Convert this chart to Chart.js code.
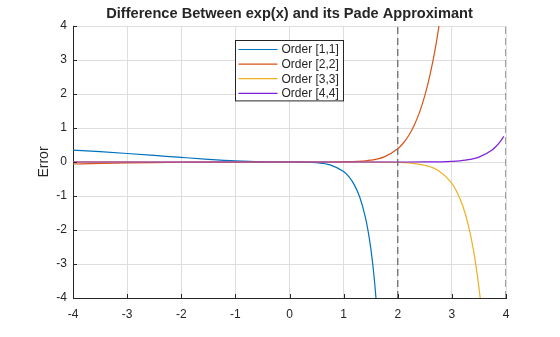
<!DOCTYPE html>
<html>
<head>
<meta charset="utf-8">
<script src="https://cdn.jsdelivr.net/npm/chart.js@4.4.1/dist/chart.umd.min.js"></script>
<style>
  html, body { margin: 0; padding: 0; background: #fff; }
  #wrap { width: 560px; height: 337px; }
</style>
</head>
<body>
<div id="wrap"><canvas id="padeChart" width="560" height="337"></canvas></div>
<script>
// error exp(x) - R(x) for each Pade order
var xOrder1 = [-4, -3.5, -3, -2.5, -2, -1.5, -1, -0.5, -0.25, 0, 0.25, 0.5, 0.75, 1, 1.1, 1.2, 1.3, 1.4, 1.45, 1.5, 1.55, 1.6, 1.65];
var errOrder1 = [0.3516, 0.3029, 0.2498, 0.1932, 0.1353, 0.0803, 0.0346, 0.0065, 0.0010, 0, -0.0017, -0.0180, -0.0830, -0.2817, -0.4403, -0.6799, -1.0450, -1.6115, -2.0096, -2.5183, -3.1774, -4.0470, -5.2216];

var xOrder2 = [-4, -3.5, -3, -2.5, -2, -1.5, -1, 0, 0.5, 0.75, 1, 1.25, 1.5, 1.75, 2, 2.1, 2.2, 2.3, 2.4, 2.5, 2.6, 2.7, 2.8];
var errOrder2 = [-0.0586, -0.0416, -0.0271, -0.0157, -0.0075, -0.0027, -0.0005, 0, 0.0001, 0.0007, 0.0040, 0.0161, 0.0531, 0.1519, 0.3891, 0.5520, 0.7723, 1.0659, 1.4517, 1.9517, 2.5903, 3.3943, 4.3920];

var xOrder3 = [-4, -3, -2, -1, 0, 1, 1.5, 1.75, 2, 2.25, 2.5, 2.75, 3, 3.1, 3.2, 3.3, 3.4, 3.5, 3.55, 3.6];
var errOrder3 = [0.0053, 0.0015, 0.0002, 0, 0, 0, -0.0008, -0.0032, -0.0109, -0.0334, -0.0941, -0.2490, -0.6287, -0.9016, -1.2873, -1.8318, -2.6010, -3.6899, -4.3956, -5.2376];

var xOrder4 = [-4, -3, -2, -1, 0, 1, 2, 2.5, 3, 3.25, 3.5, 3.75, 3.8, 3.9, 3.96];
var errOrder4 = [-0.0003, 0, 0, 0, 0, 0, 0.0002, 0.0022, 0.0201, 0.0554, 0.1449, 0.3625, 0.4333, 0.6162, 0.7588];

// poles marked with dashed vertical lines
var poleX = [2, 4];

var orderLabels = ['Order [1,1]', 'Order [2,2]', 'Order [3,3]', 'Order [4,4]'];
var orderColors = ['#0072bd', '#d95319', '#edb120', '#7e1fdc'];
var xTicks = [-4, -3, -2, -1, 0, 1, 2, 3, 4];
var yTicks = [-4, -3, -2, -1, 0, 1, 2, 3, 4];

var textColor = '#262626';

function toPoints(xs, ys) {
    return xs.map(function (x, i) { return { x: x, y: ys[i] }; });
}

var seriesX = [xOrder1, xOrder2, xOrder3, xOrder4];
var seriesY = [errOrder1, errOrder2, errOrder3, errOrder4];

var datasets = [];
for (let i = 0; i < 4; i++) {
    datasets.push({
        label: orderLabels[i],
        data: toPoints(seriesX[i], seriesY[i]),
        borderColor: orderColors[i],
        borderWidth: 1.2,
        pointRadius: 0,
        fill: false,
        cubicInterpolationMode: 'monotone',
        order: 4 - i   // later orders sit on top
    });
}
poleX.forEach(function (px) {
    datasets.push({
        data: [{ x: px, y: -4 }, { x: px, y: 4 }],
        borderColor: '#6e6e6e',
        borderWidth: 1.3,
        borderDash: [7, 4],
        pointRadius: 0,
        fill: false,
        order: 0
    });
});

// legend drawn as a framed box inside the axes
var boxLegend = {
    id: 'boxLegend',
    afterDraw: function (chart) {
        var ctx = chart.ctx;
        var area = chart.chartArea;
        var items = chart.data.datasets.filter(function (d) { return d.label; });
        var left = area.left + 162.5, top = 40.5, w = 108, rowH = 14.6;
        var h = rowH * items.length + 2;
        ctx.save();
        ctx.fillStyle = '#fff';
        ctx.fillRect(left, top, w, h);
        ctx.strokeStyle = '#262626';
        ctx.lineWidth = 1;
        ctx.strokeRect(left, top, w, h);
        ctx.font = '12px "Liberation Sans", Arial, sans-serif';
        ctx.textBaseline = 'middle';
        items.forEach(function (d, i) {
            var y = top + 9 + i * rowH;
            ctx.strokeStyle = d.borderColor;
            ctx.lineWidth = 1.2;
            ctx.beginPath();
            ctx.moveTo(left + 3, y);
            ctx.lineTo(left + 42, y);
            ctx.stroke();
            ctx.fillStyle = textColor;
            ctx.fillText(d.label, left + 46, y + 0.5);
        });
        ctx.restore();
    }
};

// small inward tick marks on the left and bottom axes
var inwardTicks = {
    id: 'inwardTicks',
    afterDatasetsDraw: function (chart) {
        var ctx = chart.ctx;
        var area = chart.chartArea;
        var xs = chart.scales.x, ys = chart.scales.y;
        ctx.save();
        ctx.strokeStyle = textColor;
        ctx.lineWidth = 1;
        ctx.beginPath();
        xs.ticks.forEach(function (t) {
            var px = Math.round(xs.getPixelForValue(t.value)) + 0.5;
            ctx.moveTo(px, area.bottom);
            ctx.lineTo(px, area.bottom - 4);
        });
        ys.ticks.forEach(function (t) {
            var py = Math.round(ys.getPixelForValue(t.value)) + 0.5;
            ctx.moveTo(area.left, py);
            ctx.lineTo(area.left + 4, py);
        });
        ctx.stroke();
        ctx.restore();
    }
};

Chart.defaults.font.family = '"Liberation Sans", Arial, sans-serif';
Chart.defaults.color = textColor;

var ctx = document.getElementById('padeChart').getContext('2d');
var padeChart = new Chart(ctx, {
    type: 'line',
    data: { datasets: datasets },
    options: {
        responsive: false,
        animation: false,
        events: [],
        layout: { padding: { left: 0, right: 54, top: 0, bottom: 0 } },
        plugins: {
            legend: { display: false },
            tooltip: { enabled: false },
            title: {
                display: true,
                text: 'Difference Between exp(x) and its Pade Approximant',
                fullSize: false,
                color: textColor,
                font: { size: 14.6, weight: 'bold' },
                padding: { top: 5, bottom: 3.5 }
            }
        },
        scales: {
            x: {
                type: 'linear',
                min: -4,
                max: 4,
                afterBuildTicks: function (s) { s.ticks = xTicks.map(function (v) { return { value: v }; }); },
                afterFit: function (s) { s.height = 39; },
                ticks: { font: { size: 12 }, padding: 9, maxRotation: 0 },
                grid: { color: '#dedede', drawTicks: false },
                border: { color: textColor, width: 1 }
            },
            y: {
                type: 'linear',
                min: -4,
                max: 4,
                afterBuildTicks: function (s) { s.ticks = yTicks.map(function (v) { return { value: v }; }); },
                afterFit: function (s) { s.width = 73; },
                ticks: { font: { size: 12 }, padding: 6 },
                grid: { color: '#dedede', drawTicks: false },
                border: { color: textColor, width: 1 },
                title: {
                    display: true,
                    text: 'Error',
                    font: { size: 14 },
                    padding: { top: 36, bottom: 0 }
                }
            }
        }
    },
    plugins: [inwardTicks, boxLegend]
});
</script>
</body>
</html>
